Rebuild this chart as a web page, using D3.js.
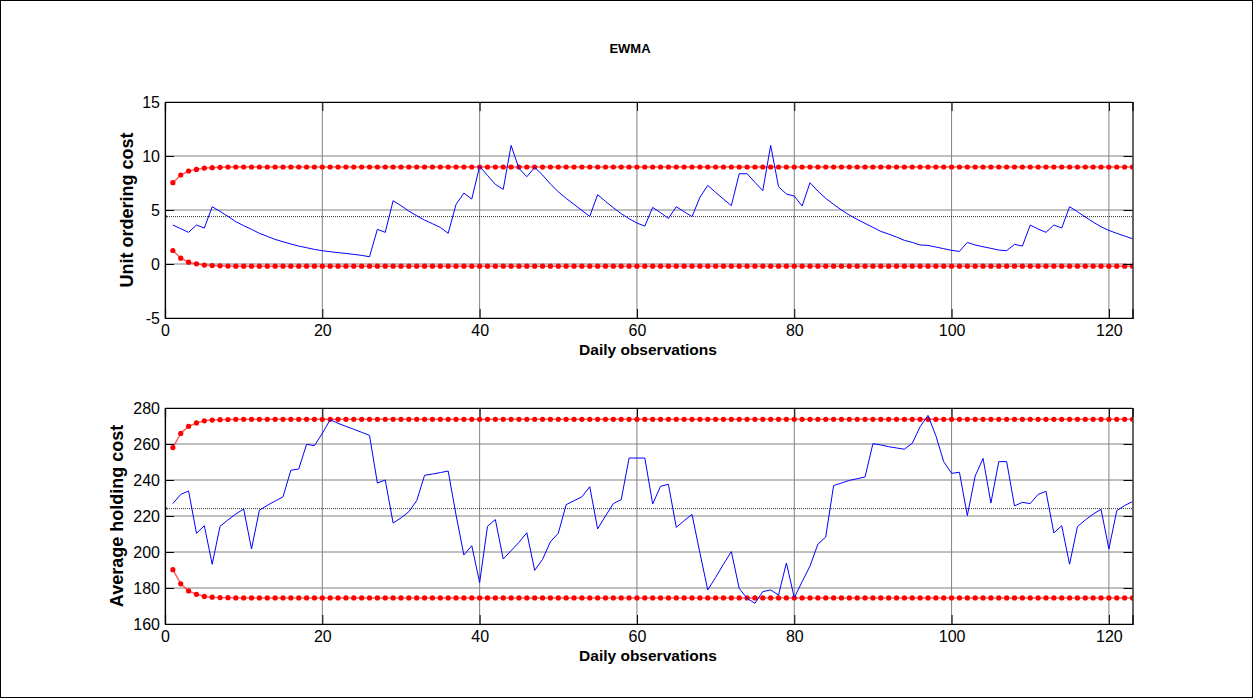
<!DOCTYPE html>
<html>
<head>
<meta charset="utf-8">
<script src="https://d3js.org/d3.v7.min.js"></script>
<style>
  body { margin: 0; background: #fff; }
  svg { display: block; font-family: "Liberation Sans", Arial, sans-serif; }
</style>
</head>
<body>
<svg id="chart" width="1253" height="698"></svg>
<script>
// EWMA statistic, one point per daily observation (1..123)
const orderCost = [
  3.61, 3.27, 2.93, 3.61, 3.33, 5.30, 4.87, 4.41, 3.92, 3.55, 3.21, 2.84, 2.56, 2.28, 2.06, 1.85, 1.66, 1.51, 1.35, 1.23,
  1.14, 1.05, 0.98, 0.89, 0.80, 0.67, 3.21, 2.93, 5.86, 5.40, 4.90, 4.47, 4.07, 3.73, 3.39, 2.84, 5.52, 6.57, 6.01, 9.05,
  8.20, 7.37, 6.91, 10.98, 8.85, 8.08, 8.95, 8.24, 7.40, 6.69, 6.08, 5.52, 4.96, 4.41, 6.42, 5.80, 5.21, 4.66, 4.19, 3.79,
  3.51, 5.24, 4.75, 4.22, 5.30, 4.84, 4.38, 6.17, 7.28, 6.63, 6.01, 5.40, 8.36, 8.36, 7.56, 6.79, 10.98, 7.16, 6.48, 6.29,
  5.37, 7.53, 6.75, 6.08, 5.52, 5.00, 4.53, 4.13, 3.76, 3.39, 3.02, 2.77, 2.50, 2.19, 2.00, 1.76, 1.72, 1.57, 1.42, 1.26,
  1.17, 2.00, 1.76, 1.60, 1.45, 1.29, 1.23, 1.82, 1.66, 3.61, 3.24, 2.93, 3.61, 3.33, 5.30, 4.84, 4.35, 3.88, 3.45, 3.11,
  2.84, 2.59, 2.34
]
const orderUCL = [
  7.53, 8.24, 8.61, 8.76, 8.88, 8.92, 8.95, 8.97, 8.98, 8.98, 8.98, 8.98, 8.98, 8.98, 8.98, 8.98, 8.98, 8.98, 8.98, 8.98,
  8.98, 8.98, 8.98, 8.98, 8.98, 8.98, 8.98, 8.98, 8.98, 8.98, 8.98, 8.98, 8.98, 8.98, 8.98, 8.98, 8.98, 8.98, 8.98, 8.98,
  8.98, 8.98, 8.98, 8.98, 8.98, 8.98, 8.98, 8.98, 8.98, 8.98, 8.98, 8.98, 8.98, 8.98, 8.98, 8.98, 8.98, 8.98, 8.98, 8.98,
  8.98, 8.98, 8.98, 8.98, 8.98, 8.98, 8.98, 8.98, 8.98, 8.98, 8.98, 8.98, 8.98, 8.98, 8.98, 8.98, 8.98, 8.98, 8.98, 8.98,
  8.98, 8.98, 8.98, 8.98, 8.98, 8.98, 8.98, 8.98, 8.98, 8.98, 8.98, 8.98, 8.98, 8.98, 8.98, 8.98, 8.98, 8.98, 8.98, 8.98,
  8.98, 8.98, 8.98, 8.98, 8.98, 8.98, 8.98, 8.98, 8.98, 8.98, 8.98, 8.98, 8.98, 8.98, 8.98, 8.98, 8.98, 8.98, 8.98, 8.98,
  8.98, 8.98, 8.98
]
const orderLCL = [
  1.25, 0.54, 0.17, 0.02, -0.10, -0.14, -0.17, -0.19, -0.20, -0.20, -0.20, -0.20, -0.20, -0.20, -0.20, -0.20, -0.20, -0.20, -0.20, -0.20,
  -0.20, -0.20, -0.20, -0.20, -0.20, -0.20, -0.20, -0.20, -0.20, -0.20, -0.20, -0.20, -0.20, -0.20, -0.20, -0.20, -0.20, -0.20, -0.20, -0.20,
  -0.20, -0.20, -0.20, -0.20, -0.20, -0.20, -0.20, -0.20, -0.20, -0.20, -0.20, -0.20, -0.20, -0.20, -0.20, -0.20, -0.20, -0.20, -0.20, -0.20,
  -0.20, -0.20, -0.20, -0.20, -0.20, -0.20, -0.20, -0.20, -0.20, -0.20, -0.20, -0.20, -0.20, -0.20, -0.20, -0.20, -0.20, -0.20, -0.20, -0.20,
  -0.20, -0.20, -0.20, -0.20, -0.20, -0.20, -0.20, -0.20, -0.20, -0.20, -0.20, -0.20, -0.20, -0.20, -0.20, -0.20, -0.20, -0.20, -0.20, -0.20,
  -0.20, -0.20, -0.20, -0.20, -0.20, -0.20, -0.20, -0.20, -0.20, -0.20, -0.20, -0.20, -0.20, -0.20, -0.20, -0.20, -0.20, -0.20, -0.20, -0.20,
  -0.20, -0.20, -0.20
]
const orderCL = 4.39

const holdCost = [
  226.9, 232.0, 233.9, 210.4, 214.6, 193.2, 214.3, 217.8, 221.1, 223.9, 201.7, 223.2, 225.9, 228.3, 230.6, 245.4, 246.1, 259.8, 259.1, 265.9,
  273.5, 271.5, 269.8, 268.2, 266.5, 264.8, 238.3, 240.0, 216.1, 218.9, 222.4, 228.5, 242.6, 243.3, 244.1, 245.0, 220.6, 198.3, 203.5, 183.0,
  214.3, 218.0, 196.1, 200.7, 205.4, 210.7, 189.8, 195.9, 205.7, 210.4, 226.3, 228.5, 230.6, 236.3, 212.8, 220.0, 226.9, 229.1, 252.2, 252.2,
  252.2, 226.7, 236.5, 237.6, 213.7, 217.4, 220.9, 199.6, 178.9, 185.9, 193.2, 200.2, 179.8, 174.3, 171.5, 178.0, 178.9, 176.1, 193.9, 174.6,
  183.5, 192.2, 204.3, 208.3, 236.9, 238.3, 239.8, 240.7, 241.7, 260.2, 259.5, 258.5, 257.8, 257.1, 260.4, 269.6, 275.9, 264.6, 250.2, 243.7,
  244.3, 220.2, 242.2, 252.0, 227.2, 250.2, 250.2, 225.6, 227.6, 226.9, 232.0, 233.7, 210.6, 214.6, 193.2, 214.1, 217.8, 221.1, 223.7, 201.7,
  223.0, 225.8, 228.0
]
const holdUCL = [
  258.0, 265.9, 269.8, 271.7, 272.9, 273.3, 273.5, 273.6, 273.7, 273.7, 273.7, 273.7, 273.7, 273.7, 273.7, 273.7, 273.7, 273.7, 273.7, 273.7,
  273.7, 273.7, 273.7, 273.7, 273.7, 273.7, 273.7, 273.7, 273.7, 273.7, 273.7, 273.7, 273.7, 273.7, 273.7, 273.7, 273.7, 273.7, 273.7, 273.7,
  273.7, 273.7, 273.7, 273.7, 273.7, 273.7, 273.7, 273.7, 273.7, 273.7, 273.7, 273.7, 273.7, 273.7, 273.7, 273.7, 273.7, 273.7, 273.7, 273.7,
  273.7, 273.7, 273.7, 273.7, 273.7, 273.7, 273.7, 273.7, 273.7, 273.7, 273.7, 273.7, 273.7, 273.7, 273.7, 273.7, 273.7, 273.7, 273.7, 273.7,
  273.7, 273.7, 273.7, 273.7, 273.7, 273.7, 273.7, 273.7, 273.7, 273.7, 273.7, 273.7, 273.7, 273.7, 273.7, 273.7, 273.7, 273.7, 273.7, 273.7,
  273.7, 273.7, 273.7, 273.7, 273.7, 273.7, 273.7, 273.7, 273.7, 273.7, 273.7, 273.7, 273.7, 273.7, 273.7, 273.7, 273.7, 273.7, 273.7, 273.7,
  273.7, 273.7, 273.7
]
const holdLCL = [
  190.2, 182.3, 178.4, 176.5, 175.3, 174.9, 174.7, 174.6, 174.5, 174.5, 174.5, 174.5, 174.5, 174.5, 174.5, 174.5, 174.5, 174.5, 174.5, 174.5,
  174.5, 174.5, 174.5, 174.5, 174.5, 174.5, 174.5, 174.5, 174.5, 174.5, 174.5, 174.5, 174.5, 174.5, 174.5, 174.5, 174.5, 174.5, 174.5, 174.5,
  174.5, 174.5, 174.5, 174.5, 174.5, 174.5, 174.5, 174.5, 174.5, 174.5, 174.5, 174.5, 174.5, 174.5, 174.5, 174.5, 174.5, 174.5, 174.5, 174.5,
  174.5, 174.5, 174.5, 174.5, 174.5, 174.5, 174.5, 174.5, 174.5, 174.5, 174.5, 174.5, 174.5, 174.5, 174.5, 174.5, 174.5, 174.5, 174.5, 174.5,
  174.5, 174.5, 174.5, 174.5, 174.5, 174.5, 174.5, 174.5, 174.5, 174.5, 174.5, 174.5, 174.5, 174.5, 174.5, 174.5, 174.5, 174.5, 174.5, 174.5,
  174.5, 174.5, 174.5, 174.5, 174.5, 174.5, 174.5, 174.5, 174.5, 174.5, 174.5, 174.5, 174.5, 174.5, 174.5, 174.5, 174.5, 174.5, 174.5, 174.5,
  174.5, 174.5, 174.5
]
const holdCL = 224.1

const xTicks = [0, 20, 40, 60, 80, 100, 120]
const orderTicks = [-5, 0, 5, 10, 15]
const holdTicks = [160, 180, 200, 220, 240, 260, 280]

const W = 1253, H = 698
const left = 165, right = 1132.5, plotH = 216

const svg = d3.select('#chart')

// figure frame
svg.append('rect')
    .attr('x', 0.5).attr('y', 0.5)
    .attr('width', W - 1).attr('height', H - 1)
    .attr('fill', '#fff').attr('stroke', '#000')

svg.append('text')
    .attr('x', 630).attr('y', 53)
    .attr('text-anchor', 'middle')
    .attr('font-size', 13).attr('font-weight', 'bold')
    .text('EWMA')

const x = d3.scaleLinear().domain([0, 123]).range([left, right])
const plain = d => String(d)   // keep ascii hyphen for negatives

const panels = [
    { values: orderCost, ucl: orderUCL, lcl: orderLCL, cl: orderCL, domain: [-5, 15], ticks: orderTicks,
      top: 102, label: 'Unit ordering cost', labelX: 133, id: 'a' },
    { values: holdCost, ucl: holdUCL, lcl: holdLCL, cl: holdCL, domain: [160, 280], ticks: holdTicks,
      top: 408, label: 'Average holding cost', labelX: 123, id: 'b' }
]

panels.forEach(p => {
    const y = d3.scaleLinear().domain(p.domain).range([p.top + plotH, p.top])
    const g = svg.append('g')

    g.append('clipPath').attr('id', 'clip-' + p.id)
        .append('rect')
        .attr('x', left).attr('y', p.top)
        .attr('width', right - left).attr('height', plotH)

    // grid
    g.append('g').selectAll('line').data(xTicks).join('line')
        .attr('x1', d => x(d)).attr('x2', d => x(d))
        .attr('y1', p.top).attr('y2', p.top + plotH)
        .attr('stroke', '#808080').attr('stroke-width', 1)
    g.append('g').selectAll('line').data(p.ticks).join('line')
        .attr('x1', left).attr('x2', right)
        .attr('y1', d => y(d)).attr('y2', d => y(d))
        .attr('stroke', '#808080').attr('stroke-width', 1)

    const plot = g.append('g').attr('clip-path', `url(#clip-${p.id})`)

    // centre line
    plot.append('line')
        .attr('x1', left).attr('x2', right)
        .attr('y1', y(p.cl)).attr('y2', y(p.cl))
        .attr('stroke', '#000').attr('stroke-width', 0.8)
        .attr('stroke-dasharray', '1,1')
    plot.append('circle')
        .attr('cx', left).attr('cy', y(p.cl)).attr('r', 1.8).attr('fill', '#000')

    const line = d3.line().x((d, i) => x(i + 1)).y(d => y(d))

    ;[p.ucl, p.lcl].forEach(lim => {
        plot.append('path')
            .datum(lim)
            .attr('d', line)
            .attr('fill', 'none')
            .attr('stroke', '#ff2020').attr('stroke-opacity', 0.7)
            .attr('stroke-width', 1.5)
        plot.append('g').selectAll('circle').data(lim).join('circle')
            .attr('cx', (d, i) => x(i + 1))
            .attr('cy', d => y(d))
            .attr('r', 2.6)
            .attr('fill', '#ff0000')
    })

    plot.append('path')
        .datum(p.values)
        .attr('d', line)
        .attr('fill', 'none')
        .attr('stroke', '#0000ff')
        .attr('stroke-width', 1)

    // axes, ticks pointing inward
    g.append('g')
        .attr('transform', `translate(0,${p.top + plotH})`)
        .call(d3.axisBottom(x).tickValues(xTicks).tickSize(-9).tickPadding(7).tickFormat(plain))
    g.append('g')
        .attr('transform', `translate(0,${p.top})`)
        .call(d3.axisTop(x).tickValues(xTicks).tickSize(-9).tickFormat(''))
    g.append('g')
        .attr('transform', `translate(${left},0)`)
        .call(d3.axisLeft(y).tickValues(p.ticks).tickSize(-9).tickPadding(5).tickFormat(plain))
    g.append('g')
        .attr('transform', `translate(${right},0)`)
        .call(d3.axisRight(y).tickValues(p.ticks).tickSize(-9).tickFormat(''))

    g.selectAll('.domain').attr('stroke', '#000').attr('stroke-width', 1.2)
    g.selectAll('.tick line').attr('stroke', '#000')
    g.selectAll('.tick text')
        .attr('font-family', '"Liberation Sans", Arial, sans-serif')
        .attr('font-size', 16).attr('fill', '#000')

    g.append('text')
        .attr('x', 648).attr('y', p.top + plotH + 37)
        .attr('text-anchor', 'middle')
        .attr('font-size', 15.5).attr('font-weight', 'bold')
        .text('Daily observations')

    g.append('text')
        .attr('transform', `translate(${p.labelX},${p.top + plotH / 2}) rotate(-90)`)
        .attr('text-anchor', 'middle')
        .attr('font-size', 18).attr('font-weight', 'bold')
        .text(p.label)
})
</script>
</body>
</html>
